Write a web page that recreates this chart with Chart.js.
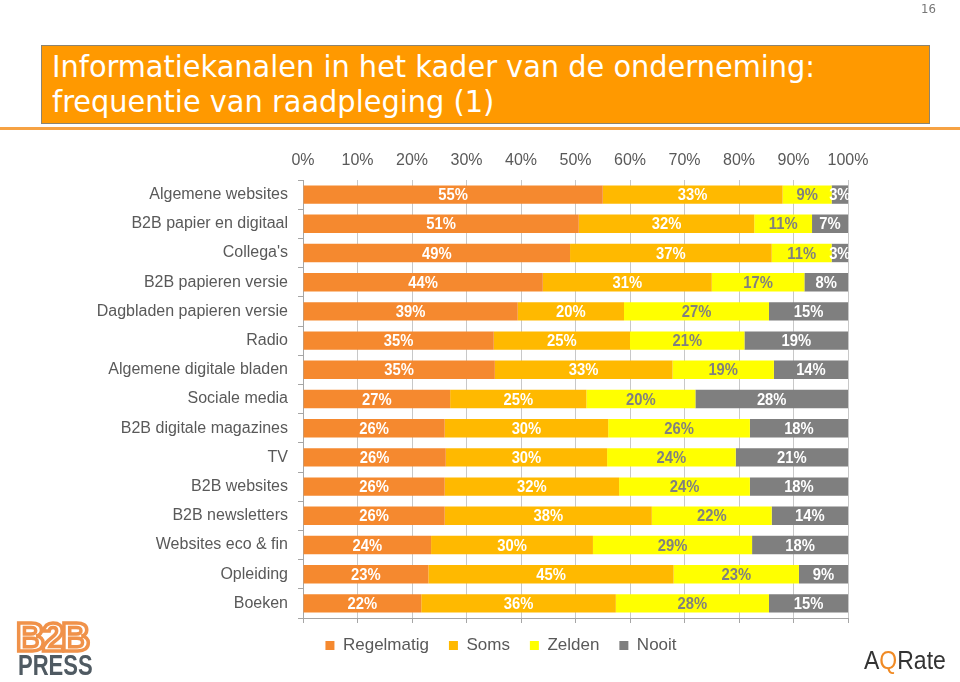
<!DOCTYPE html>
<html><head><meta charset="utf-8">
<script src="https://cdn.jsdelivr.net/npm/chart.js@4.4.0/dist/chart.umd.min.js"></script>
<style>
html,body{margin:0;padding:0;background:#fff;width:960px;height:682px;overflow:hidden;position:relative;font-family:"Liberation Sans",Arial,sans-serif}
#c{position:absolute;left:0;top:0}
#page{position:absolute;left:921px;top:1px;font-size:13px;font-family:"DejaVu Sans Condensed","DejaVu Sans",sans-serif;font-stretch:condensed;color:#777}
#title{position:absolute;left:41px;top:45px;width:889px;height:79px;background:#FF9900;border:1px solid #8c8470;box-sizing:border-box}
.tl{position:absolute;left:10px;color:#fff;font-family:"DejaVu Sans Condensed","DejaVu Sans",sans-serif;font-stretch:condensed;font-size:30px;white-space:nowrap;transform-origin:0 0;line-height:34px}
#rule{position:absolute;left:0;top:127px;width:960px;height:3px;background:#F6A243}
#b2b{position:absolute;left:16px;top:615px;font:bold 40px "Liberation Sans",Arial,sans-serif;color:transparent;-webkit-text-stroke:3.5px #F0924A;letter-spacing:-3px;transform:scaleX(1.0);transform-origin:0 0}
#press{position:absolute;left:18px;top:649px;font:bold 29px "Liberation Sans",Arial,sans-serif;color:#4f5a62;transform:scaleX(0.76);transform-origin:0 0}
#aq{position:absolute;left:864px;top:646px;font:25px "Liberation Sans",Arial,sans-serif;color:#333;transform:scaleX(0.92);transform-origin:0 0}
#aq span{color:#F08A24}
</style></head>
<body>
<canvas id="c" width="960" height="682"></canvas>
<div id="page">16</div>
<div id="title"><div class="tl" id="t1" style="top:4px">Informatiekanalen in het kader van de onderneming:</div><div class="tl" id="t2" style="top:39px">frequentie van raadpleging (1)</div></div>
<div id="rule"></div>
<div id="b2b">B2B</div>
<div id="press">PRESS</div>
<div id="aq">A<span>Q</span>Rate</div>
<script>
const categories = ["Algemene websites","B2B papier en digitaal","Collega's","B2B papieren versie","Dagbladen papieren versie","Radio","Algemene digitale bladen","Sociale media","B2B digitale magazines","TV","B2B websites","B2B newsletters","Websites eco & fin","Opleiding","Boeken"];
const seriesNames = ["Regelmatig","Soms","Zelden","Nooit"];
const regelmatig = [55,50.6,49,44,39.4,35,35.2,27,26,26.2,26,26,23.5,23,21.7];
const soms       = [33,32.2,37,31,19.5,25,32.6,25,30,29.6,32,38,29.7,45,35.7];
const zelden     = [9,10.6,11,17,26.6,21,18.6,20,26,23.6,24,22,29.2,23,28.1];
const nooit      = [3,6.6,3,8,14.5,19,13.6,28,18,20.6,18,14,17.6,9,14.5];
const axisMin = 0, axisMax = 100, axisStep = 10;

const barColors = ['#F5892F','#FFB900','#FFFF00','#7F7F7F'];
const labelColors = ['#ffffff','#ffffff','#808080','#ffffff'];
const FONT = '"Liberation Sans", Arial, sans-serif';

// fit title lines
const target = 763;
const t1 = document.getElementById('t1'), t2 = document.getElementById('t2');
const sc = target / t1.getBoundingClientRect().width;
t1.style.transform = 'scaleX(' + sc + ')';
t2.style.transform = 'scaleX(' + sc + ')';

const segLabels = {
  id: 'segLabels',
  afterDatasetsDraw(chart) {
    const ctx = chart.ctx;
    ctx.save();
    ctx.font = 'bold 17px ' + FONT;
    ctx.textAlign = 'center';
    ctx.textBaseline = 'middle';
    chart.data.datasets.forEach((ds, i) => {
      const meta = chart.getDatasetMeta(i);
      ctx.fillStyle = labelColors[i];
      meta.data.forEach((el, j) => {
        const v = ds.data[j];
        const cx = (el.x + el.base) / 2;
        ctx.save();
        ctx.translate(cx, el.y + 1);
        ctx.scale(0.87, 1);
        ctx.fillText(Math.round(v) + '%', 0, 0);
        ctx.restore();
      });
    });
    ctx.restore();
  }
};

const legendShift = {
  id: 'legendShift',
  afterLayout(chart) {
    const lg = chart.legend;
    if (!lg) return;
    lg.top -= 6; lg.bottom -= 6;
    lg.left += 77; lg.right += 77;
  }
};

const seriesData = [regelmatig, soms, zelden, nooit];
new Chart(document.getElementById('c'), {
  type: 'bar',
  data: {
    labels: categories,
    datasets: seriesNames.map((n, i) => ({
      label: n, data: seriesData[i], backgroundColor: barColors[i],
      borderWidth: 0, categoryPercentage: 1, barPercentage: 0.63
    }))
  },
  options: {
    responsive: false, animation: false, indexAxis: 'y',
    layout: { padding: { left: 0, right: 112, top: 148, bottom: 12 } },
    plugins: {
      legend: { position: 'bottom',
        labels: { boxWidth: 9, boxHeight: 9, padding: 20, color: '#595959', font: { size: 17, family: FONT } } },
      tooltip: { enabled: false }
    },
    scales: {
      x: { type: 'linear', position: 'top', stacked: true, min: axisMin, max: axisMax,
        ticks: { stepSize: axisStep, callback: v => v + '%', color: '#595959', font: { size: 16, family: FONT }, padding: 10 },
        grid: { color: '#c8c8c8', drawTicks: false }, border: { display: false },
        afterFit: s => { s.height = 32; } },
      x2: { type: 'linear', position: 'bottom', min: axisMin, max: axisMax,
        ticks: { display: false, stepSize: axisStep },
        grid: { drawOnChartArea: false, tickLength: 5, color: '#a6a6a6' },
        border: { display: true, color: '#a6a6a6' } },
      y: { stacked: true,
        ticks: { color: '#595959', font: { size: 16, family: FONT }, padding: 10 },
        grid: { drawOnChartArea: false, tickLength: 5, color: '#a6a6a6' },
        border: { color: '#a6a6a6' },
        afterFit: s => { s.width = 303; } }
    }
  },
  plugins: [segLabels, legendShift]
});
</script>
</body></html>
